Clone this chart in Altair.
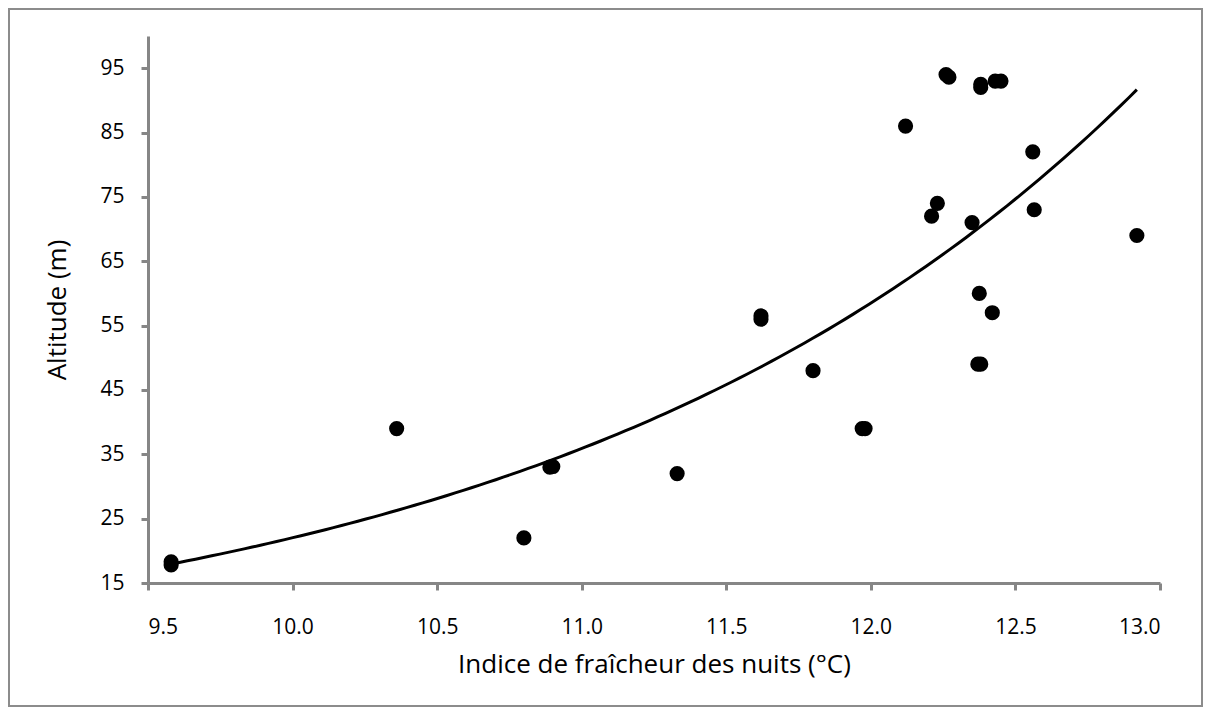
import altair as alt
import numpy as np
import pandas as pd

# Data
nuit_index = [9.58, 9.58, 10.36, 10.80, 10.89, 10.90, 11.33, 11.62, 11.62, 11.80,
              11.97, 11.98, 12.12, 12.21, 12.23, 12.26, 12.27, 12.35, 12.37, 12.38,
              12.375, 12.38, 12.38, 12.42, 12.43, 12.45, 12.56, 12.565, 12.92]
altitude = [17.8, 18.3, 39, 22, 33, 33.1, 32, 56, 56.5, 48,
            39, 39, 86, 72, 74, 94, 93.6, 71, 49, 49,
            60, 92, 92.5, 57, 93, 93, 82, 73, 69]

x_ticks = [9.5, 10.0, 10.5, 11.0, 11.5, 12.0, 12.5, 13.0]
y_ticks = [15, 25, 35, 45, 55, 65, 75, 85, 95]

pts = pd.DataFrame({"x": nuit_index, "y": altitude})

# Exponential trend line (least squares on ln y, as a spreadsheet trendline)
b, ln_a = np.polyfit(np.array(nuit_index), np.log(np.array(altitude)), 1)
xs = np.linspace(min(nuit_index), max(nuit_index), 120)
trend = pd.DataFrame({"x": xs, "y": np.exp(ln_a) * np.exp(b * xs)})

FONT = "Open Sans"
AX = "#868686"

xscale = alt.Scale(domain=[9.5, 13.0], nice=False, zero=False)
yscale = alt.Scale(domain=[15, 100], nice=False, zero=False)

xaxis = alt.Axis(values=x_ticks, format=".1f", title="Indice de fraîcheur des nuits (°C)",
                 grid=False, domainColor=AX, domainWidth=3, tickColor=AX, tickWidth=3,
                 tickSize=7, labelFont=FONT, labelFontSize=21, labelColor="#000000",
                 labelPadding=26, titleFont=FONT, titleFontSize=26, titleFontWeight="normal",
                 titleColor="#000000", titlePadding=14)
yaxis = alt.Axis(values=y_ticks, title="Altitude (m)", grid=False, domainColor=AX,
                 domainWidth=3, tickColor=AX, tickWidth=3, tickSize=7, labelFont=FONT,
                 labelFontSize=21, labelColor="#000000", labelPadding=17, titleFont=FONT,
                 titleFontSize=26, titleFontWeight="normal", titleColor="#000000",
                 titlePadding=29)

points = alt.Chart(pts).mark_circle(size=230, color="#000000", opacity=1).encode(
    x=alt.X("x:Q", scale=xscale, axis=xaxis),
    y=alt.Y("y:Q", scale=yscale, axis=yaxis),
)

line = alt.Chart(trend).mark_line(color="#000000", strokeWidth=3).encode(
    x=alt.X("x:Q", scale=xscale),
    y=alt.Y("y:Q", scale=yscale),
)

frame = alt.Chart(pd.DataFrame({"f": [0]})).mark_rect(
    fill=None, stroke="#8c8c8c", strokeWidth=2
).encode(
    x=alt.value(-139), x2=alt.value(1054), y=alt.value(-27), y2=alt.value(670)
)

chart = alt.layer(frame, line, points).properties(
    width=1012, height=547,
    padding={"left": 140, "top": 28, "right": 43, "bottom": 124},
    autosize=alt.AutoSizeParams(type="none"),
).configure(background="#ffffff").configure_view(strokeWidth=0, stroke="transparent")

chart.save("out.html", embed_options={"renderer": "svg", "actions": False})
